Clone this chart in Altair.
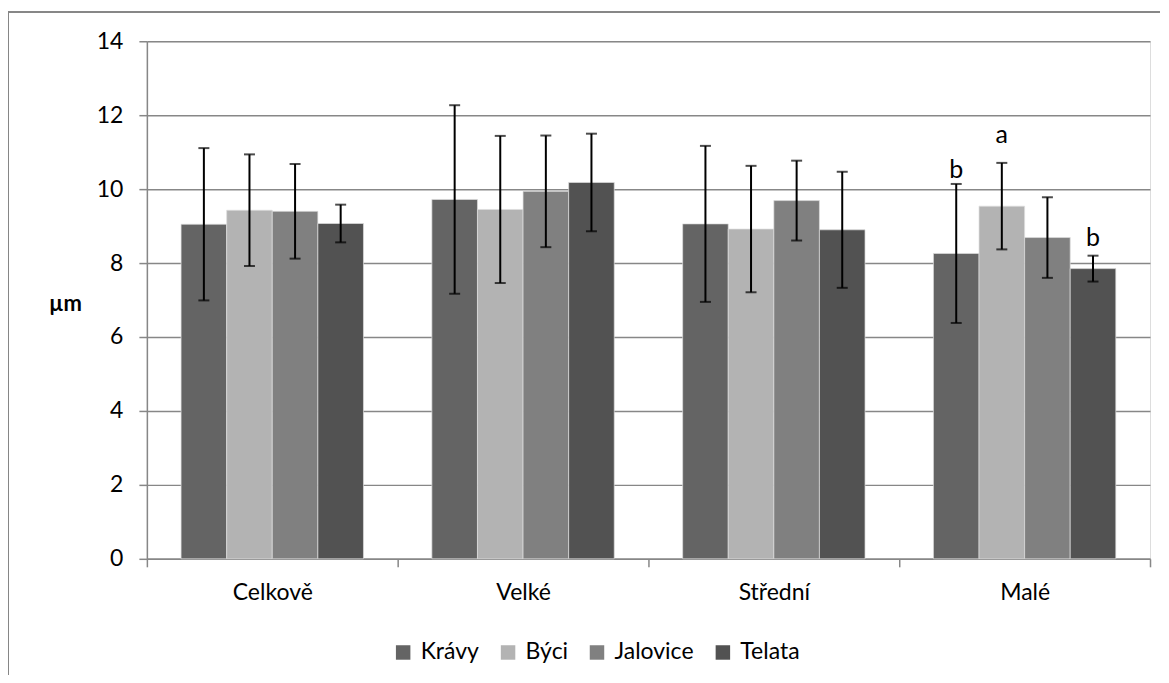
import altair as alt
import pandas as pd

categories = ["Celkově", "Velké", "Střední", "Malé"]
groups = ["Krávy", "Býci", "Jalovice", "Telata"]
colors = ["#646464", "#b3b3b3", "#808080", "#525252"]

kravy_mean = [9.05, 9.72, 9.06, 8.26]
kravy_sd = [2.06, 2.55, 2.11, 1.88]
byci_mean = [9.43, 9.45, 8.92, 9.54]
byci_sd = [1.51, 1.99, 1.71, 1.17]
jalovice_mean = [9.40, 9.94, 9.69, 8.69]
jalovice_sd = [1.28, 1.51, 1.08, 1.09]
telata_mean = [9.07, 10.18, 8.90, 7.85]
telata_sd = [0.51, 1.32, 1.57, 0.35]

# significance letters (category Malé)
sig_category = "Malé"
sig_groups = ["Krávy", "Býci", "Telata"]
sig_letters = ["b", "a", "b"]
sig_pos = [10.30, 11.24, 8.47]

FONT = "Lato"
GREY = "#878787"

means = [kravy_mean, byci_mean, jalovice_mean, telata_mean]
sds = [kravy_sd, byci_sd, jalovice_sd, telata_sd]
rows = []
for g, m, s in zip(groups, means, sds):
    for c, mv, sv in zip(categories, m, s):
        rows.append({"cat": c, "grp": g, "mean": mv, "lo": mv - sv, "hi": mv + sv})
df = pd.DataFrame(rows)
sig_df = pd.DataFrame({"cat": [sig_category] * len(sig_groups), "grp": sig_groups,
                       "txt": sig_letters, "pos": sig_pos})

xenc = alt.X("cat:N", sort=categories, title=None,
             scale=alt.Scale(domain=categories, paddingInner=0, paddingOuter=0),
             axis=alt.Axis(tickBand="extent", labelAngle=0, labelFont=FONT, labelFontSize=23,
                           labelColor="#000000", labelPadding=15, tickSize=8, tickColor=GREY,
                           domainColor=GREY, domainWidth=1.5, tickWidth=1.5, grid=False))
xoff = alt.XOffset("grp:N", sort=groups,
                   scale=alt.Scale(domain=groups, paddingOuter=0.75, paddingInner=0))
yscale = alt.Scale(domain=[0, 14], nice=False)
yenc = alt.Y("mean:Q", scale=yscale, title="µm",
             axis=alt.Axis(values=[0, 2, 4, 6, 8, 10, 12, 14], labelFont=FONT, labelFontSize=23,
                           labelColor="#000000", labelPadding=16, tickSize=8, tickColor=GREY,
                           tickWidth=1.5, domainColor=GREY, domainWidth=1.5,
                           gridColor=GREY, gridWidth=1.5,
                           titleAngle=0, titleFont=FONT, titleFontSize=22, titleFontWeight="bold",
                           titleColor="#000000", titleX=-82, titleY=262, titleAlign="center",
                           titleBaseline="middle"))

bars = alt.Chart(df).mark_bar(stroke="#dedede", strokeWidth=0.7).encode(
    x=xenc, xOffset=xoff, y=yenc,
    color=alt.Color("grp:N", sort=groups, scale=alt.Scale(domain=groups, range=colors),
                    legend=alt.Legend(title=None, orient="none", direction="horizontal",
                                      columns=4, legendX=245, legendY=600,
                                      symbolType="square", symbolSize=210, symbolStrokeWidth=0,
                                      symbolOpacity=1, labelFont=FONT, labelFontSize=23,
                                      labelColor="#000000", labelOffset=6, columnPadding=17)),
)

err = alt.Chart(df).mark_rule(color="#000000", strokeWidth=2).encode(
    x=alt.X("cat:N", sort=categories), xOffset=xoff,
    y=alt.Y("lo:Q", scale=yscale), y2="hi:Q")
cap_lo = alt.Chart(df).mark_tick(color="#000000", thickness=2, size=11).encode(
    x=alt.X("cat:N", sort=categories), xOffset=xoff, y=alt.Y("lo:Q", scale=yscale))
cap_hi = alt.Chart(df).mark_tick(color="#000000", thickness=2, size=11).encode(
    x=alt.X("cat:N", sort=categories), xOffset=xoff, y=alt.Y("hi:Q", scale=yscale))

letters = alt.Chart(sig_df).mark_text(font=FONT, fontSize=25, color="#000000",
                                      baseline="alphabetic", align="center").encode(
    x=alt.X("cat:N", sort=categories), xOffset=xoff,
    y=alt.Y("pos:Q", scale=yscale), text="txt:N")

border_top = alt.Chart(df).mark_rule(color=GREY, strokeWidth=1).encode(
    x=alt.value(-138.5), x2=alt.value(1014), y=alt.value(-29.5))
border_left = alt.Chart(df).mark_rule(color=GREY, strokeWidth=1).encode(
    x=alt.value(-138.5), y=alt.value(-29.5), y2=alt.value(634))

chart = alt.layer(border_top, border_left, bars, err, cap_lo, cap_hi, letters).properties(
    width=1004, height=518,
    padding={"left": 0, "top": 3, "right": 0, "bottom": 0},
).configure_view(stroke=None).configure(background="#ffffff")

chart.save("out.html", embed_options={"renderer": "svg", "actions": False})
